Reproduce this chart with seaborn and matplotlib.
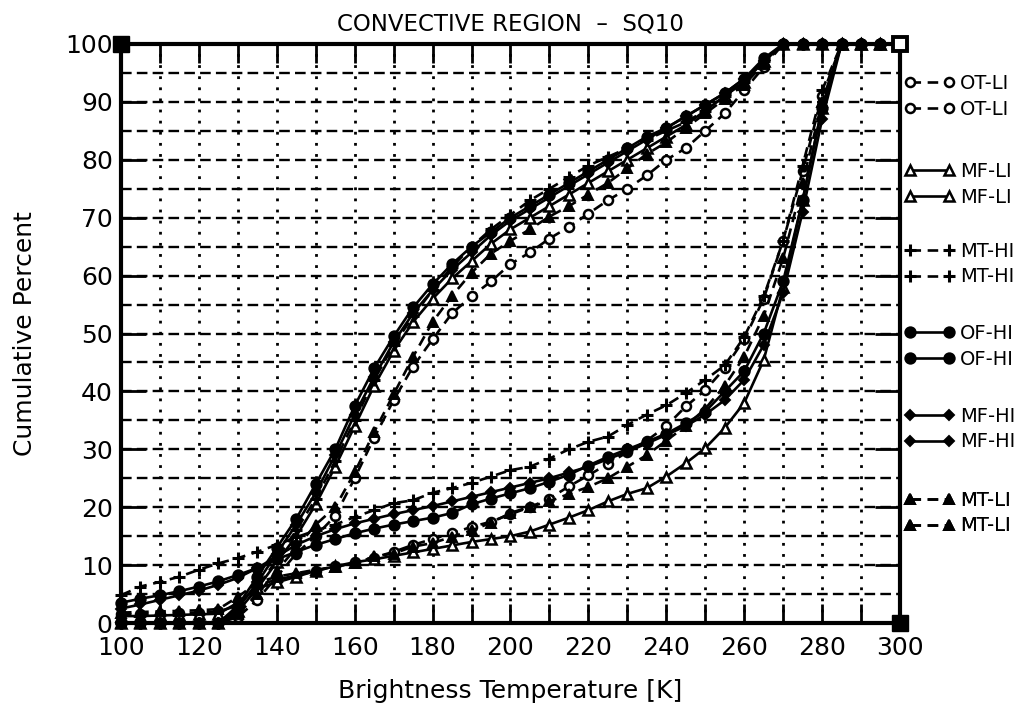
import numpy as np
import pandas as pd
import matplotlib
matplotlib.use("Agg")
import matplotlib.pyplot as plt
from matplotlib.lines import Line2D
import seaborn as sns

# ---------------- data ----------------
temps = list(range(100, 305, 5))  # Brightness temperature [K]
zeros6 = [0, 0, 0, 0, 0, 0]
top6 = [100] * 6
top3 = [100] * 3

# cold (upper) family of curves
up_otli = zeros6 + [1, 4, 8, 12, 15, 18.5, 25, 32, 38.5, 44.3, 49, 53.5, 56.4, 59, 62, 64, 66.4, 68.4,
                    70.7, 73, 75, 77.3, 80, 82, 85, 88, 92, 96, 100] + top6
up_mfli = zeros6 + [2, 6, 10.5, 15, 20.5, 27, 34, 41, 47, 52, 56, 59.5, 62.5, 65.5, 68, 70, 72, 74,
                    76, 78, 80, 82, 84, 86, 88.5, 91, 93.5, 97, 100] + top6
up_mthi = zeros6 + [2, 6, 11, 16, 21.5, 28, 35, 42, 48, 53, 57.5, 61.5, 65, 68, 70.5, 73, 75, 77,
                    79, 80.5, 82, 83.5, 85, 86.5, 88.5, 91, 93.5, 97, 100] + top6
up_ofhi = zeros6 + [3, 8, 13, 18, 24, 30, 37.5, 44, 49.5, 54.5, 58.5, 62, 65, 67.5, 70, 72, 74, 76,
                    78, 80, 82, 84, 85.5, 87.5, 89.5, 91.5, 94, 97.5, 100] + top6
up_mfhi = zeros6 + [2.5, 7, 12, 17, 22.5, 29, 36, 42.5, 48.5, 53.5, 57.5, 61, 64, 67, 69.5, 71.5,
                    73.5, 75.5, 77.5, 79.5, 81.5, 83.5, 85.5, 87.5, 89.5, 91.5, 94, 97, 100] + top6
up_mtli = zeros6 + [1.5, 5, 9, 13, 17, 20, 26, 33, 39.5, 46, 52, 56.5, 60.5, 63.8, 66, 68, 70.2, 72,
                    74, 76, 78.5, 81, 83, 85.5, 88, 90.5, 93, 96.5, 100] + top6

# warm (lower) family of curves
lo_otli = [1.5, 1.5, 1.6, 1.7, 1.8, 2.0, 3, 6.5, 7.5, 8.2, 9, 9.8, 10.5, 11.3, 12.3, 13.5, 14.5, 15.5,
           16.6, 17.5, 18.8, 20, 21.5, 23.6, 25.5, 27.5, 29.5, 31.5, 34, 37.4, 40.2, 44, 49, 56, 66,
           78, 91, 100] + top3
lo_mfli = [1.2, 1.2, 1.3, 1.4, 1.5, 1.6, 3.5, 6, 7, 8, 9, 9.8, 10.5, 11, 11.6, 12.2, 12.8, 13.4, 14,
           14.5, 15, 15.8, 17, 18.2, 19.5, 21, 22.3, 23.3, 25.3, 27.6, 30.2, 33.7, 38, 45.4, 58, 73,
           89, 100] + top3
lo_mthi = [4.8, 6.3, 7.1, 8, 9.2, 10.3, 11.2, 12.3, 13.5, 14.8, 16, 17, 18.3, 19.5, 20.7, 21.2, 22.5,
           23.3, 24.2, 25.3, 26.4, 27, 28.4, 30, 31.3, 32.2, 34.2, 36, 37.6, 39.7, 42, 44.5, 49.4,
           56.4, 66, 79, 92, 100] + top3
lo_ofhi = [3.5, 4.2, 4.8, 5.5, 6.3, 7.2, 8.3, 9.5, 11, 12.3, 13.5, 14.5, 15.5, 16.3, 17, 17.6, 18.2,
           19, 20.5, 21.5, 22.4, 23.3, 24.4, 25.6, 27.2, 28.7, 30, 31.3, 32.7, 34.5, 36.5, 40, 43.5,
           50, 59, 73, 89, 100] + top3
lo_mfhi = [2.5, 3.2, 4, 4.8, 5.6, 6.6, 7.8, 9.5, 11.5, 13.5, 15, 16.2, 17.2, 18, 18.8, 19.5, 20.2, 21,
           21.8, 22.6, 23.4, 24.2, 25, 26, 27, 28.3, 29.6, 31, 32.5, 34, 36, 38.5, 42, 48, 57, 71, 87,
           100] + top3
lo_mtli = [1.8, 1.9, 2.0, 2.1, 2.2, 2.4, 4.5, 7, 8, 8.6, 9.2, 9.7, 10.3, 11.5, 12, 13.2, 13.8, 14.9,
           16, 17.3, 19, 20.1, 21, 22.3, 23.5, 25, 27, 29, 31.5, 34, 37, 41, 46, 53, 63, 76, 90,
           100] + top3

labels = ["OT-LI", "MF-LI", "MT-HI", "OF-HI", "MF-HI", "MT-LI"]
upper = [up_otli, up_mfli, up_mthi, up_ofhi, up_mfhi, up_mtli]
lower = [lo_otli, lo_mfli, lo_mthi, lo_ofhi, lo_mfhi, lo_mtli]

title = "CONVECTIVE REGION  –  SQ10"
xlabel = "Brightness Temperature [K]"
ylabel = "Cumulative Percent"
xlim = (100, 300)
ylim = (0, 100)

# ---------------- style ----------------
sns.set_theme(style="white")
plt.rcParams["font.family"] = ["DejaVu Sans"]
plt.rcParams["text.color"] = "black"
plt.rcParams["axes.labelcolor"] = "black"

dash = (0, (4, 2.5))
styles = {
    "OT-LI": dict(marker="o", mfc="white", ls=dash, ms=6.5, mew=1.8),
    "MF-LI": dict(marker="^", mfc="white", ls="-", ms=7, mew=1.8),
    "MT-HI": dict(marker="+", mfc="black", ls=dash, ms=9, mew=2.2),
    "OF-HI": dict(marker="o", mfc="black", ls="-", ms=7.5, mew=1.4),
    "MF-HI": dict(marker="D", mfc="black", ls="-", ms=5, mew=1.4),
    "MT-LI": dict(marker="^", mfc="black", ls=dash, ms=7.5, mew=1.4),
}

fig = plt.figure(figsize=(10.22, 7.05), dpi=100)
ax = fig.add_axes([0.1184, 0.1163, 0.7622, 0.8213])

for lab, yu, yl in zip(labels, upper, lower):
    st = styles[lab]
    for yy in (yu, yl):
        df = pd.DataFrame({"T": temps, "P": yy})
        sns.lineplot(data=df, x="T", y="P", ax=ax, color="black", lw=1.9,
                     marker=st["marker"], markerfacecolor=st["mfc"], markeredgecolor="black",
                     markersize=st["ms"], markeredgewidth=st["mew"],
                     linestyle=st["ls"], clip_on=False, zorder=3)

ax.set_xlim(*xlim)
ax.set_ylim(*ylim)
ax.set_xticks(np.arange(100, 301, 20))
ax.set_xticks(np.arange(110, 300, 20), minor=True)
ax.set_yticks(np.arange(0, 101, 10))
ax.set_yticks(np.arange(5, 100, 10), minor=True)

# grid: dotted verticals every 10 K, dashed horizontals every 5 %
for v in np.arange(110, 300, 10):
    ax.axvline(v, color="black", lw=2.0, ls=(0, (1, 3.0)), zorder=1)
for h in np.arange(5, 100, 5):
    ax.axhline(h, color="black", lw=1.7, ls=(0, (4.5, 2.2)), zorder=1)

ax.tick_params(axis="x", which="both", direction="in", length=14, width=2.0,
               top=True, bottom=True, labelsize=18, pad=9, colors="black")
ax.tick_params(axis="y", which="major", direction="in", length=18, width=2.0,
               left=True, right=True, labelsize=18, pad=6, colors="black")
ax.tick_params(axis="y", which="minor", length=0)

for sp in ax.spines.values():
    sp.set_visible(True)
    sp.set_color("black")
    sp.set_linewidth(3)

ax.set_title(title, fontsize=16.5, pad=10, color="black")
ax.set_xlabel(xlabel, fontsize=18, labelpad=14, color="black")
ax.set_ylabel(ylabel, fontsize=18, labelpad=20, color="black")

# corner markers of the frame
ax.plot([xlim[0]], [ylim[1]], marker="s", ms=11, color="black", clip_on=False, zorder=5)
ax.plot([xlim[1]], [ylim[1]], marker="s", ms=10, mfc="white", mec="black", mew=2.8,
        clip_on=False, zorder=5)
ax.plot([xlim[1]], [ylim[0]], marker="s", ms=11, color="black", clip_on=False, zorder=5)

# legend: pairs placed down the right margin
pair_y = [0.91, 0.758, 0.62, 0.478, 0.335, 0.19]
for lab, py in zip(labels, pair_y):
    st = styles[lab]
    h = Line2D([], [], color="black", lw=1.9, marker=st["marker"], mfc=st["mfc"],
               mec="black", ms=st["ms"], mew=st["mew"], ls=st["ls"])
    leg = ax.legend([h, h], [lab, lab], loc="center left", bbox_to_anchor=(0.995, py),
                    frameon=False, numpoints=2, handlelength=2.6, handletextpad=0.3,
                    labelspacing=0.35, fontsize=14, borderaxespad=0.0)
    for t in leg.get_texts():
        t.set_color("black")
    ax.add_artist(leg)

fig.savefig("out.png", dpi=100)
